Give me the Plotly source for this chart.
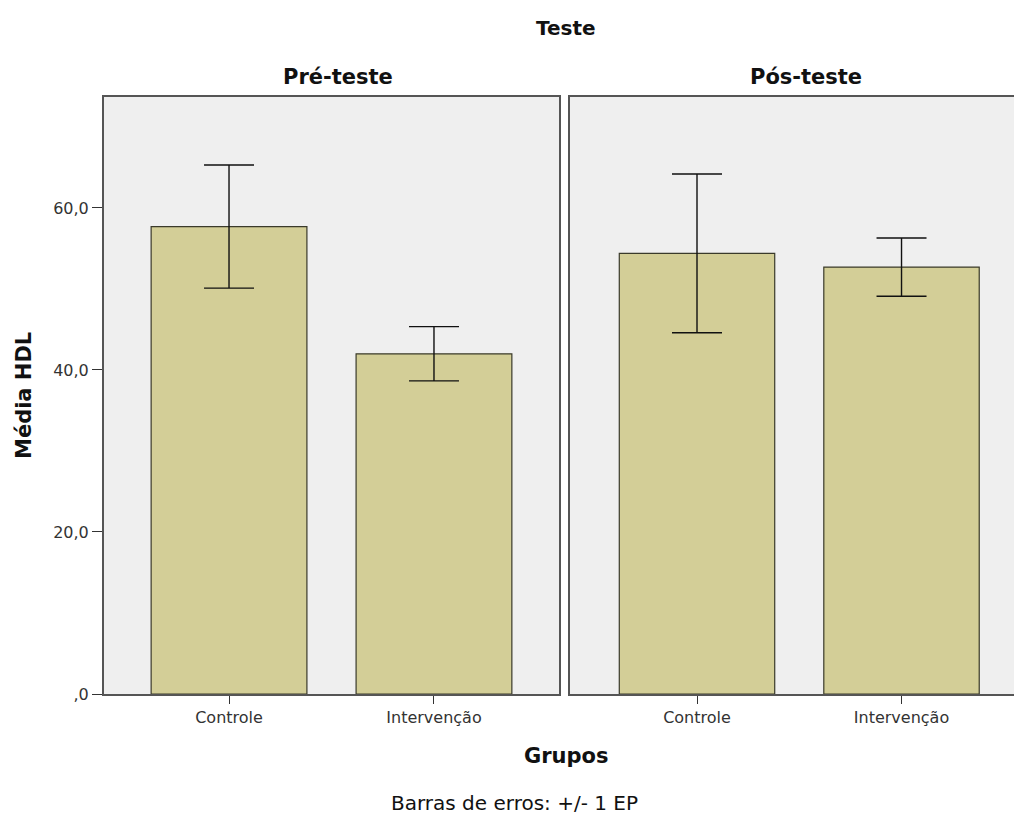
import plotly.graph_objects as go

# Mean HDL per group, before and after, with +/- 1 standard error
grupos = ["Controle", "Intervenção"]
pre_media = [57.7, 42.0]
pre_ep = [7.6, 3.35]
pos_media = [54.4, 52.7]
pos_ep = [9.8, 3.6]

y_ticks = [0, 20, 40, 60]
y_ticktext = [",0", "20,0", "40,0", "60,0"]

bar_fill = "#d3ce97"
bar_line = "#3a3a2a"
frame = "#555555"
font_family = "DejaVu Sans, Verdana, sans-serif"

fig = go.Figure()

fig.add_trace(go.Bar(
    x=grupos, y=pre_media, width=0.76,
    marker=dict(color=bar_fill, line=dict(color=bar_line, width=1.2)),
    error_y=dict(type="data", array=pre_ep, color="#111111", thickness=1.4, width=25),
    xaxis="x", yaxis="y", showlegend=False,
))
fig.add_trace(go.Bar(
    x=grupos, y=pos_media, width=0.76,
    marker=dict(color=bar_fill, line=dict(color=bar_line, width=1.2)),
    error_y=dict(type="data", array=pos_ep, color="#111111", thickness=1.4, width=25),
    xaxis="x2", yaxis="y2", showlegend=False,
))

tick_font = dict(family=font_family, size=16, color="#333333")

xcommon = dict(
    type="category", showline=True, linecolor=frame, linewidth=2, mirror=True,
    ticks="outside", ticklen=8, tickcolor="#333333", tickwidth=1.2,
    tickfont=tick_font, showgrid=False, zeroline=False, fixedrange=True,
)

fig.update_layout(
    width=1014, height=814,
    margin=dict(l=0, r=0, t=97, b=120),
    paper_bgcolor="white",
    plot_bgcolor="#efefef",
    font=dict(family=font_family, color="#111111"),
    xaxis=dict(domain=[104 / 1014, 559 / 1014], range=[-0.61, 1.61], anchor="y", **xcommon),
    xaxis2=dict(domain=[570 / 1014, 1.0], range=[-0.621, 1.55], anchor="y2", **xcommon),
    yaxis=dict(
        domain=[0, 1], range=[0, 73.7], anchor="x",
        tickvals=y_ticks, ticktext=y_ticktext,
        showline=True, linecolor=frame, linewidth=2, mirror=True,
        ticks="outside", ticklen=10, tickcolor="#333333", tickwidth=1.2,
        tickfont=tick_font, showgrid=False, zeroline=False,
    ),
    yaxis2=dict(
        domain=[0, 1], range=[0, 73.7], anchor="x2",
        showticklabels=False, showline=True, linecolor=frame, linewidth=2, mirror=False,
        ticks="", showgrid=False, zeroline=False,
    ),
    bargap=0.24,
)

def py(pix):
    # pixel row -> paper y (plot area spans rows 97..694)
    return (694 - pix) / 597

annots = [
    dict(text="<b>Teste</b>", x=566 / 1014, y=py(28), size=20, angle=0),
    dict(text="<b>Pré-teste</b>", x=338 / 1014, y=py(77), size=21, angle=0),
    dict(text="<b>Pós-teste</b>", x=806 / 1014, y=py(77), size=21, angle=0),
    dict(text="<b>Grupos</b>", x=566 / 1014, y=py(756), size=21, angle=0),
    dict(text="<b>Média HDL</b>", x=24 / 1014, y=py(396), size=21, angle=-90),
    dict(text="Barras de erros: +/- 1 EP", x=514 / 1014, y=py(803), size=20, angle=0),
]
for a in annots:
    fig.add_annotation(
        text=a["text"], x=a["x"], y=a["y"], xref="paper", yref="paper",
        xanchor="center", yanchor="middle", showarrow=False, textangle=a["angle"],
        font=dict(family=font_family, size=a["size"], color="#111111"),
    )

fig.write_html("out.html")
